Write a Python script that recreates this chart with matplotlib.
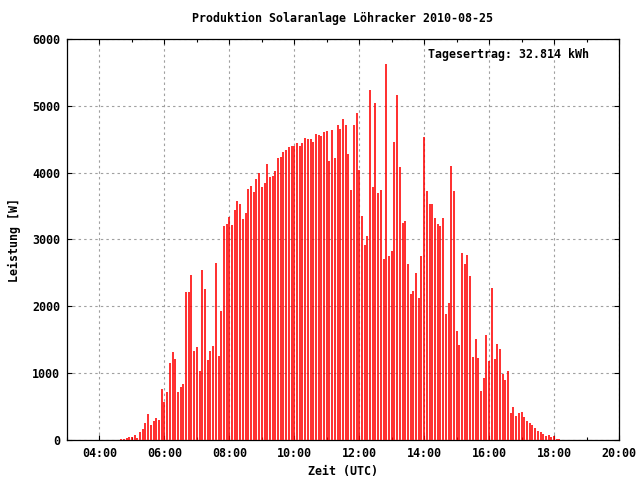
import matplotlib
matplotlib.use("Agg")
import matplotlib.pyplot as plt
import matplotlib.dates as mdates
from matplotlib.ticker import MultipleLocator
import pandas as pd

# 5-minute power readings, 04:40 .. 18:10 UTC
start = "2010-08-25 04:40"
end = "2010-08-25 18:10"
leistung = [
    10, 15, 30, 40, 40, 70, 30, 120, 160, 250, 385, 220,          # 04:40 - 05:35
    280, 325, 295, 760, 565, 715, 1155, 1315, 1210, 715, 790, 835,  # 05:40 - 06:35
    2220, 2220, 2475, 1335, 1395, 1035, 2550, 2265, 1200, 1335, 1410, 2655,  # 06:40 - 07:35
    1260, 1935, 3195, 3225, 3330, 3210, 3435, 3570, 3525, 3300, 3390, 3760,  # 07:40 - 08:35
    3800, 3710, 3905, 4000, 3790, 3850, 4130, 3940, 3950, 4030, 4220, 4235,  # 08:40 - 09:35
    4310, 4340, 4385, 4400, 4400, 4445, 4400, 4445, 4520, 4505, 4505, 4460,  # 09:40 - 10:35
    4580, 4565, 4550, 4610, 4625, 4175, 4640, 4220, 4715, 4655, 4805, 4715,  # 10:40 - 11:35
    4280, 3740, 4715, 4895, 4040, 3355, 2920, 3055, 5240, 3790, 5045, 3700,  # 11:40 - 12:35
    3740, 2710, 5630, 2755, 2830, 4460, 5165, 4085, 3250, 3280, 2635, 2185,  # 12:40 - 13:35
    2230, 2500, 2125, 2755, 4535, 3730, 3535, 3535, 3325, 3235, 3205, 3325,  # 13:40 - 14:35
    1885, 2050, 4100, 3730, 1630, 1420, 2800, 2635, 2770, 2455, 1240, 1510,  # 14:40 - 15:35
    1230, 735, 930, 1570, 1180, 2275, 1210, 1435, 1360, 990, 900, 1035,      # 15:40 - 16:35
    405, 495, 360, 405, 420, 345, 285, 255, 225, 180, 135, 120,              # 16:40 - 17:35
    90, 60, 75, 45, 60, 15, 15,                                              # 17:40 - 18:10
]
zeit = pd.date_range(start, end, freq="5min")

titel = "Produktion Solaranlage Löhracker 2010-08-25"
ertrag = "Tagesertrag: 32.814 kWh"

plt.rcParams['font.family'] = ['DejaVu Sans Mono']
plt.rcParams['font.weight'] = 'bold'
plt.rcParams['axes.labelweight'] = 'bold'
plt.rcParams['axes.titleweight'] = 'bold'
plt.rcParams['font.size'] = 8.4

fig = plt.figure(figsize=(6.4, 4.8), dpi=100)
ax = fig.add_axes([67/640, 40/480, 552/640, 401/480])

ax.vlines(zeit, 0, leistung, color='#ff0000', lw=1.15, zorder=3)

ax.set_xlim(pd.Timestamp("2010-08-25 03:00"), pd.Timestamp("2010-08-25 20:00"))
ax.set_ylim(0, 6000)
ax.xaxis.set_major_locator(mdates.HourLocator(byhour=range(0, 24, 2)))
ax.xaxis.set_minor_locator(mdates.HourLocator())
ax.xaxis.set_major_formatter(mdates.DateFormatter("%H:%M"))
ax.yaxis.set_major_locator(MultipleLocator(1000))

ax.grid(True, which='major', color='#a0a0a0', lw=0.8, linestyle=(0, (2.2, 2.8)), zorder=1)
ax.tick_params(which='both', direction='in', top=True, right=True, pad=5, labelsize=8.4)
ax.tick_params(which='major', length=3.5, width=0.8)
ax.tick_params(which='minor', length=2, width=0.8)
for s in ax.spines.values():
    s.set_linewidth(0.9)

ax.set_title(titel, fontsize=8.4, pad=12)
ax.set_xlabel("Zeit (UTC)", labelpad=4)
ax.set_ylabel("Leistung [W]", labelpad=8)
ax.text(0.654, 0.962, ertrag, transform=ax.transAxes, ha='left', va='center', zorder=4)

plt.savefig("out.png", dpi=100)
